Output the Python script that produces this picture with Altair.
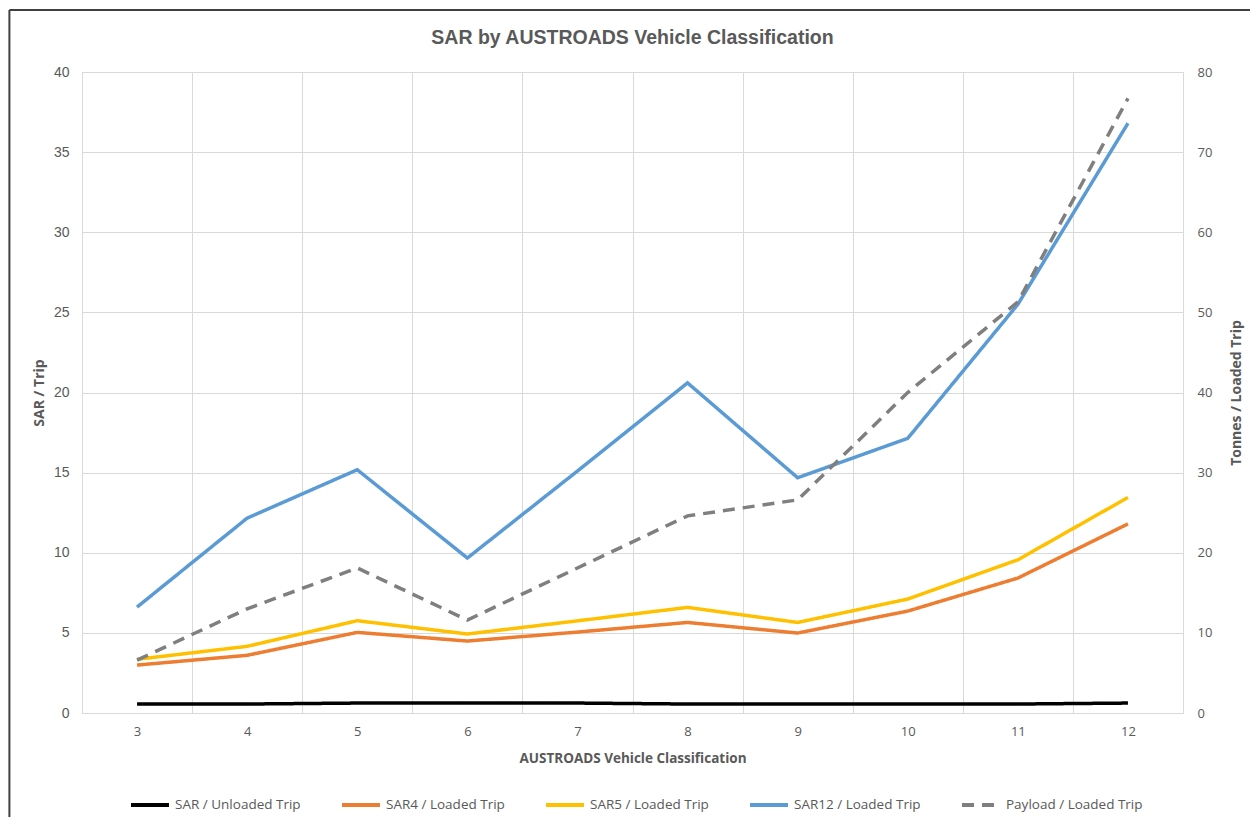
import altair as alt
import pandas as pd

# ---- data ----
classes = [3, 4, 5, 6, 7, 8, 9, 10, 11, 12]
sar_unloaded = [0.56, 0.56, 0.62, 0.62, 0.62, 0.56, 0.56, 0.56, 0.56, 0.62]
sar4_loaded = [2.99, 3.60, 5.03, 4.49, 5.05, 5.65, 4.99, 6.36, 8.42, 11.80]
sar5_loaded = [3.35, 4.16, 5.76, 4.93, 5.75, 6.59, 5.65, 7.11, 9.56, 13.45]
sar12_loaded = [6.61, 12.16, 15.18, 9.67, 15.10, 20.60, 14.68, 17.14, 25.50, 36.80]
payload_loaded = [6.6, 13.0, 18.1, 11.6, 18.1, 24.6, 26.6, 40.0, 51.3, 76.7]

series_names = ["SAR / Unloaded Trip", "SAR4 / Loaded Trip", "SAR5 / Loaded Trip",
                "SAR12 / Loaded Trip", "Payload / Loaded Trip"]
series_colors = ["#000000", "#ED7D31", "#FFC000", "#5B9BD5", "#7F7F7F"]
series_dashes = [[1, 0], [1, 0], [1, 0], [1, 0], [12, 8]]

left_ticks = [0, 5, 10, 15, 20, 25, 30, 35, 40]
right_ticks = [0, 10, 20, 30, 40, 50, 60, 70, 80]

rows = []
for name, vals in zip(series_names[:4], [sar_unloaded, sar4_loaded, sar5_loaded, sar12_loaded]):
    for c, v in zip(classes, vals):
        rows.append({"cls": c, "series": name, "value": v})
sar_df = pd.DataFrame(rows)
pay_df = pd.DataFrame({"cls": classes, "series": series_names[4], "value": payload_loaded})

GREY = "#595959"
GRID = "#D9D9D9"
TFONT = "Open Sans"

legend = alt.Legend(title=None, orient="none", legendX=47, legendY=712, direction="horizontal",
                    columns=5, symbolType="stroke", symbolSize=1444, symbolStrokeWidth=4,
                    labelFont=TFONT, labelFontSize=13.5, labelColor=GREY, labelOffset=4,
                    columnPadding=33, padding=0)

color = alt.Color("series:N", scale=alt.Scale(domain=series_names, range=series_colors), legend=legend)
dash = alt.StrokeDash("series:N", scale=alt.Scale(domain=series_names, range=series_dashes), legend=legend)

x_enc = alt.X("cls:O", sort=classes, title="AUSTROADS Vehicle Classification", bandPosition=0.5,
              scale=alt.Scale(type="band", paddingInner=0, paddingOuter=0),
              axis=alt.Axis(labelAngle=0, tickBand="extent", grid=True, gridColor=GRID, gridWidth=1,
                            ticks=False, domain=False, labelFont=TFONT, labelFontSize=13,
                            labelColor=GREY, labelPadding=12, titleFont=TFONT, titleFontSize=13.5,
                            titleFontWeight="bold", titleColor=GREY, titlePadding=13))

left = alt.Chart(sar_df).mark_line(strokeWidth=3.5).encode(
    x=x_enc,
    y=alt.Y("value:Q", scale=alt.Scale(domain=[0, 40], nice=False),
            axis=alt.Axis(orient="left", values=left_ticks, title="SAR / Trip", grid=True,
                          gridColor=GRID, gridWidth=1, ticks=False, domain=False,
                          labelFont="Liberation Sans", labelFontSize=14,
                          labelColor=GREY, labelPadding=13, titleFont=TFONT, titleFontSize=14,
                          titleFontWeight="bold", titleColor=GREY, titlePadding=7)),
    color=color,
    strokeDash=dash,
)

right = alt.Chart(pay_df).mark_line(strokeWidth=3.5).encode(
    x=x_enc,
    y=alt.Y("value:Q", scale=alt.Scale(domain=[0, 80], nice=False),
            axis=alt.Axis(orient="right", values=right_ticks, title="Tonnes / Loaded Trip", grid=False,
                          ticks=False, domain=False, labelFont=TFONT, labelFontSize=13,
                          labelColor=GREY, labelPadding=14, titleFont=TFONT, titleFontSize=14,
                          titleFontWeight="bold", titleColor=GREY, titlePadding=32, titleAngle=270)),
    color=color,
    strokeDash=dash,
)

one = pd.DataFrame({"k": [0]})
border_left = alt.Chart(one).mark_rule(color="#404040", strokeWidth=2).encode(
    x=alt.value(-72.6), y=alt.value(-62), y2=alt.value(745))
border_top = alt.Chart(one).mark_rule(color="#404040", strokeWidth=2).encode(
    x=alt.value(-72.6), x2=alt.value(1168), y=alt.value(-62))

chart = alt.layer(left, right, border_left, border_top).resolve_scale(y="independent").properties(
    width=1101, height=641,
    padding={"left": 0, "top": 1, "right": 0, "bottom": 0},
    title=alt.TitleParams("SAR by AUSTROADS Vehicle Classification", frame="group", anchor="middle",
                          font="Liberation Sans", fontSize=19.5,
                          fontWeight="bold", color=GREY, offset=-39),
).configure_view(stroke=GRID, strokeWidth=1)

chart.save("out.html", embed_options={"renderer": "svg", "actions": False})
